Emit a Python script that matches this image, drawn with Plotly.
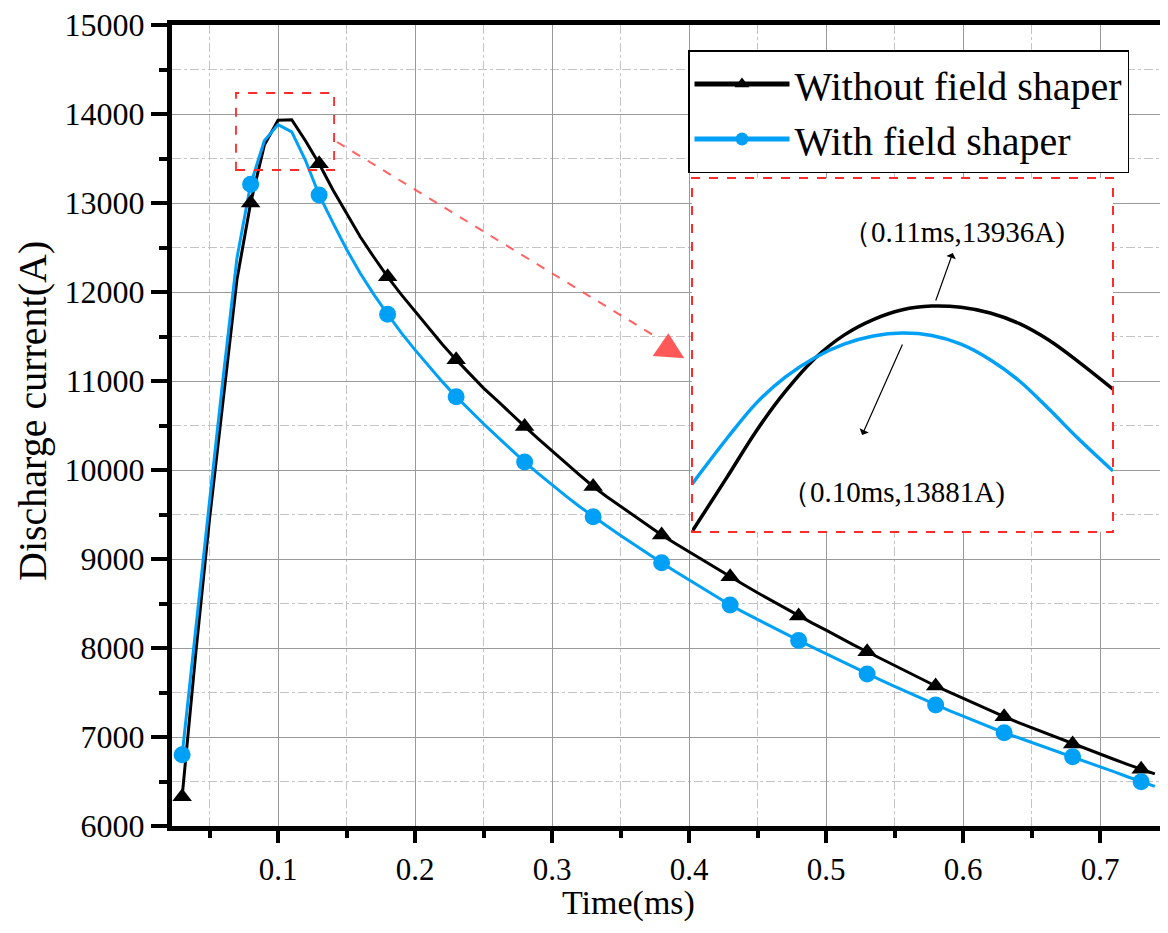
import plotly.graph_objects as go

# ---------------- data ----------------
time_ms = [0.03, 0.04, 0.05, 0.06, 0.07, 0.08, 0.09, 0.10, 0.11, 0.12,
           0.13, 0.14, 0.15, 0.16, 0.17, 0.18, 0.19, 0.20, 0.21, 0.22,
           0.23, 0.24, 0.25, 0.26, 0.27, 0.28, 0.29, 0.30, 0.31, 0.32,
           0.33, 0.34, 0.35, 0.36, 0.37, 0.38, 0.39, 0.40, 0.41, 0.42,
           0.43, 0.44, 0.45, 0.46, 0.47, 0.48, 0.49, 0.50, 0.51, 0.52,
           0.53, 0.54, 0.55, 0.56, 0.57, 0.58, 0.59, 0.60, 0.61, 0.62,
           0.63, 0.64, 0.65, 0.66, 0.67, 0.68, 0.69, 0.70, 0.71, 0.72,
           0.73, 0.74]

without_shaper = [6330, 7950, 9450, 10830, 12140, 13000, 13650, 13930, 13936, 13700,
                  13440, 13150, 12880, 12620, 12390, 12170, 11970, 11780, 11590, 11410,
                  11240, 11080, 10920, 10780, 10630, 10490, 10350, 10210, 10080, 9945,
                  9815, 9700, 9590, 9480, 9375, 9270, 9175, 9080, 8985, 8890,
                  8800, 8710, 8620, 8535, 8445, 8360, 8280, 8200, 8115, 8035,
                  7958, 7880, 7800, 7725, 7650, 7573, 7505, 7435, 7365, 7295,
                  7228, 7165, 7105, 7045, 6983, 6921, 6865, 6808, 6750, 6693,
                  6637, 6585]

with_shaper = [6800, 8250, 9650, 11050, 12380, 13210, 13700, 13881, 13800, 13480,
               13090, 12780, 12480, 12210, 11970, 11750, 11540, 11350, 11170, 10990,
               10824, 10670, 10520, 10375, 10230, 10090, 9960, 9830, 9710, 9590,
               9475, 9370, 9265, 9160, 9060, 8958, 8860, 8765, 8670, 8575,
               8483, 8400, 8320, 8240, 8160, 8085, 8010, 7935, 7860, 7783,
               7708, 7638, 7568, 7498, 7428, 7360, 7297, 7235, 7172, 7110,
               7048, 6994, 6940, 6886, 6832, 6779, 6722, 6666, 6610, 6553,
               6497, 6445]

# zoomed inset (fine-resolution curves near the peak)
inset_time = [0.069, 0.075, 0.080, 0.085, 0.090, 0.095, 0.100, 0.105, 0.110, 0.115,
              0.120, 0.125, 0.130, 0.135, 0.141]
inset_without = [13372, 13505, 13618, 13715, 13795, 13852, 13890, 13914, 13923, 13920,
                 13906, 13880, 13840, 13788, 13720]
inset_with = [13488, 13600, 13686, 13750, 13797, 13830, 13850, 13857, 13851, 13830,
              13792, 13740, 13672, 13600, 13520]

series_names = ["Without field shaper", "With field shaper"]
peak_labels = ["（0.11ms,13936A)", "（0.10ms,13881A)"]
x_title = "Time(ms)"
y_title = "Discharge current(A)"
y_ticks = [6000, 7000, 8000, 9000, 10000, 11000, 12000, 13000, 14000, 15000]
y_minor = [6500, 7500, 8500, 9500, 10500, 11500, 12500, 13500, 14500]
x_ticks = [0.1, 0.2, 0.3, 0.4, 0.5, 0.6, 0.7]
x_minor = [0.05, 0.15, 0.25, 0.35, 0.45, 0.55, 0.65]

# ---------------- style ----------------
BLACK = "#000000"
BLUE = "#00A0F6"
RED = "#FF2A2A"
FONT = "Liberation Serif"

# The page body has an 8px margin; figure is sized so it fits the window.
OFF = 8
W, H = 1168 - 2 * OFF, 933 - 2 * OFF
# plot area in reference pixels: left 172, top 25, bottom 826, right 1160
PL, PT, PB, PR = 172, 25, 826, 1160
L, T = PL - OFF, PT - OFF
B = H - (PB - OFF)
R = W - (PR - OFF)
pw, ph = PR - PL, PB - PT
xmin = 0.0226
xmax = xmin + pw / 1370.0


def px2paper(px, py):
    return (px - PL) / pw, (PB - py) / ph


fig = go.Figure()

# main curves
fig.add_trace(go.Scatter(x=time_ms, y=without_shaper, mode="lines",
                         line=dict(color=BLACK, width=3), showlegend=False))
fig.add_trace(go.Scatter(x=time_ms, y=with_shaper, mode="lines",
                         line=dict(color=BLUE, width=3), showlegend=False))
# markers every 5th sample
fig.add_trace(go.Scatter(x=time_ms[::5], y=without_shaper[::5], mode="markers",
                         marker=dict(symbol="triangle-up", size=17, color=BLACK),
                         showlegend=False))
fig.add_trace(go.Scatter(x=time_ms[::5], y=with_shaper[::5], mode="markers",
                         marker=dict(symbol="circle", size=17, color=BLUE),
                         showlegend=False))
# legend entries
fig.add_trace(go.Scatter(x=[None], y=[None], mode="lines+markers", name=series_names[0],
                         line=dict(color=BLACK, width=5),
                         marker=dict(symbol="triangle-up", size=13, color=BLACK)))
fig.add_trace(go.Scatter(x=[None], y=[None], mode="lines+markers", name=series_names[1],
                         line=dict(color=BLUE, width=5),
                         marker=dict(symbol="circle", size=13, color=BLUE)))

# inset curves
fig.add_trace(go.Scatter(x=inset_time, y=inset_without, mode="lines",
                         line=dict(color=BLACK, width=3.5, shape="spline"),
                         showlegend=False, xaxis="x2", yaxis="y2"))
fig.add_trace(go.Scatter(x=inset_time, y=inset_with, mode="lines",
                         line=dict(color=BLUE, width=3.5, shape="spline"),
                         showlegend=False, xaxis="x2", yaxis="y2"))

ix0, iy1 = px2paper(692, 178)
ix1, iy0 = px2paper(1113, 532)
lgx, lgy = px2paper(688, 50)

fig.update_layout(
    width=W, height=H,
    margin=dict(l=L, r=R, t=T, b=B, pad=0),
    plot_bgcolor="white", paper_bgcolor="white",
    font=dict(family=FONT, color="black"),
    xaxis=dict(range=[xmin, xmax], domain=[0, 1],
               tickvals=x_ticks, ticktext=[str(v) for v in x_ticks],
               ticks="outside", ticklen=12, tickwidth=4, tickcolor="black",
               showline=True, linewidth=5, linecolor="black", mirror=True,
               showgrid=True, gridcolor="#9a9a9a", gridwidth=1.2,
               tickfont=dict(size=31, family=FONT, color="black"),
               ticklabeloverflow="allow",
               minor=dict(tickvals=x_minor,
                          ticks="outside", ticklen=7, tickwidth=4, tickcolor="black",
                          showgrid=True, gridcolor="#c4c4c4", griddash="dashdot", gridwidth=1.2),
               zeroline=False),
    yaxis=dict(range=[6000, 15000], domain=[0, 1],
               tickvals=y_ticks, ticktext=[str(v) for v in y_ticks],
               ticks="outside", ticklen=16, tickwidth=4, tickcolor="black",
               showline=True, linewidth=5, linecolor="black", mirror=False,
               showgrid=True, gridcolor="#9a9a9a", gridwidth=1.2,
               tickfont=dict(size=32, family=FONT, color="black"),
               ticklabeloverflow="allow",
               minor=dict(tickvals=y_minor,
                          ticks="outside", ticklen=8, tickwidth=4, tickcolor="black",
                          showgrid=True, gridcolor="#c4c4c4", griddash="dashdot", gridwidth=1.2),
               zeroline=False),
    xaxis2=dict(domain=[ix0, ix1], anchor="y2", range=[0.069, 0.141],
                visible=False, showgrid=False, zeroline=False),
    yaxis2=dict(domain=[iy0, iy1], anchor="x2", range=[13371, 14236],
                visible=False, showgrid=False, zeroline=False),
    legend=dict(x=lgx, y=lgy, xanchor="left", yanchor="top",
                bgcolor="white", bordercolor="black", borderwidth=1.5,
                font=dict(size=40, family=FONT, color="black"),
                itemwidth=95, tracegroupgap=0),
)

shapes = []
# white background of inset (drawn in the inset subplot, under its curves)
shapes.append(dict(type="rect", xref="x2", yref="y2", x0=0.069, x1=0.141,
                   y0=13371, y1=14236, fillcolor="white",
                   line=dict(width=0), layer="below"))
# inset border
shapes.append(dict(type="rect", xref="paper", yref="paper", x0=ix0, x1=ix1,
                   y0=iy0, y1=iy1, line=dict(color=RED, width=2, dash="dash"),
                   layer="above"))
# small box around the peak on main plot
shapes.append(dict(type="rect", xref="x", yref="y", x0=0.0693, x1=0.1409,
                   y0=13371, y1=14236, line=dict(color=RED, width=1.8, dash="dash"),
                   layer="above"))
# dashed connector arrow
sx, sy = px2paper(337, 142)
ex, ey = px2paper(658, 338)
shapes.append(dict(type="line", xref="paper", yref="paper", x0=sx, y0=sy, x1=ex, y1=ey,
                   line=dict(color="rgba(255,70,70,0.85)", width=2, dash="dash"),
                   layer="above"))
p1 = px2paper(668.3, 333.3)
p2 = px2paper(652.7, 356)
p3 = px2paper(684.3, 358.3)
shapes.append(dict(type="path", xref="paper", yref="paper",
                   path=f"M{p1[0]},{p1[1]} L{p2[0]},{p2[1]} L{p3[0]},{p3[1]} Z",
                   fillcolor="rgba(255,70,70,0.9)", line=dict(width=0), layer="above"))
fig.update_layout(shapes=shapes)

annotations = []
# axis titles
tx, ty = px2paper(628, 903)
annotations.append(dict(text=x_title, xref="paper", yref="paper", x=tx, y=ty,
                        showarrow=False, font=dict(size=34, family=FONT),
                        xanchor="center", yanchor="middle"))
yx, yy = px2paper(33, 411)
annotations.append(dict(text=y_title, xref="paper", yref="paper", x=yx, y=yy,
                        showarrow=False, textangle=-90, font=dict(size=40, family=FONT),
                        xanchor="center", yanchor="middle"))
# inset labels
a1x, a1y = px2paper(953, 233)
annotations.append(dict(text=peak_labels[0], xref="paper", yref="paper", x=a1x, y=a1y,
                        showarrow=False, font=dict(size=29, family=FONT),
                        xanchor="center", yanchor="middle"))
a2x, a2y = px2paper(893, 492)
annotations.append(dict(text=peak_labels[1], xref="paper", yref="paper", x=a2x, y=a2y,
                        showarrow=False, font=dict(size=29, family=FONT),
                        xanchor="center", yanchor="middle"))
# pointer arrows in inset
annotations.append(dict(text="", xref="x2", yref="y2", x=0.1136, y=14053,
                        axref="x2", ayref="y2", ax=0.1106, ay=13933,
                        showarrow=True, arrowhead=1, arrowsize=1.4, arrowwidth=1.2,
                        arrowcolor="black"))
annotations.append(dict(text="", xref="x2", yref="y2", x=0.0981, y=13608,
                        axref="x2", ayref="y2", ax=0.1051, ay=13833,
                        showarrow=True, arrowhead=1, arrowsize=1.4, arrowwidth=1.2,
                        arrowcolor="black"))
fig.update_layout(annotations=annotations)

fig.write_html("out.html")
